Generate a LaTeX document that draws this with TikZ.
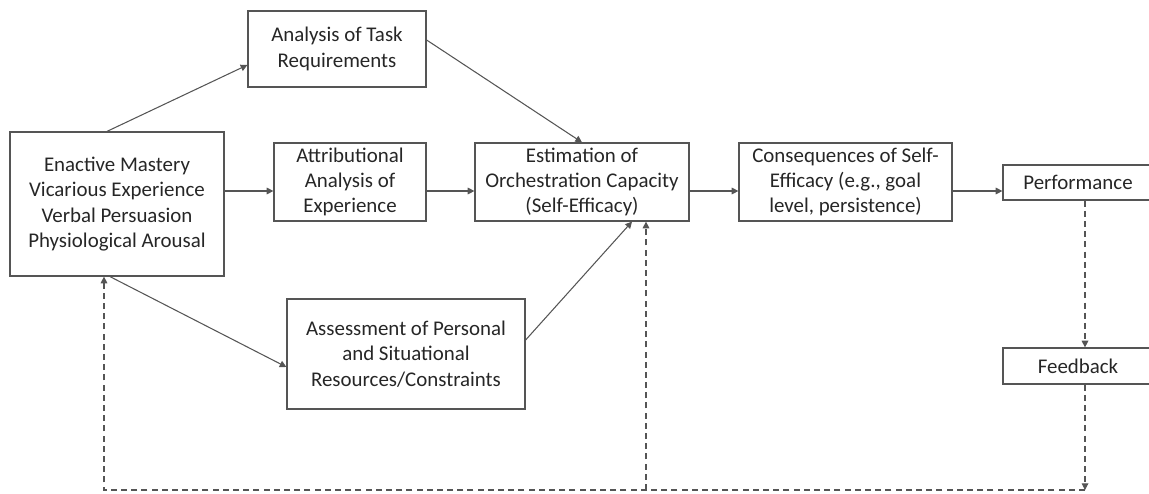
\documentclass[tikz,border=0pt]{standalone}
\usepackage{fontspec}
\setmainfont{Carlito}
\usepackage{tikz}
\usetikzlibrary{positioning,arrows.meta,calc}
\usepackage{xcolor}
\definecolor{boxline}{HTML}{555555}
\definecolor{inktext}{HTML}{262626}

\begin{document}
\begin{tikzpicture}[
    font=\fontsize{11.9}{14.4}\selectfont,
    box/.style={draw=boxline, line width=0.7pt, align=center, text=inktext, inner sep=2pt},
    arr/.style={draw=boxline, line width=0.6pt, -{Triangle[length=3.8pt,width=3.8pt]}},
    fbarr/.style={arr, dash pattern=on 3.4pt off 2.4pt}
]
    \useasboundingbox (0,0) rectangle (22.98,9.86);

    % 1. Fonti dell'autoefficacia (sinistra)
    \node[box, minimum width=4.28cm, minimum height=2.88cm] (src) at (2.34, 5.78)
        {Enactive Mastery\\Vicarious Experience\\Verbal Persuasion\\Physiological Arousal};

    % 2. Tre analisi intermedie
    \node[box, minimum width=3.56cm, minimum height=1.52cm] (task) at (6.74, 8.88)
        {Analysis of Task\\Requirements};
    \node[box, minimum width=3.04cm, minimum height=1.56cm] (attr) at (7.00, 6.22)
        {Attributional\\Analysis of\\Experience};
    \node[box, minimum width=4.76cm, minimum height=2.20cm] (assess) at (8.12, 2.78)
        {Assessment of Personal\\and Situational\\Resources/Constraints};

    % 3. Stima e conseguenze
    \node[box, minimum width=4.28cm, minimum height=1.56cm] (est) at (11.64, 6.22)
        {Estimation of\\Orchestration Capacity\\(Self-Efficacy)};
    \node[box, minimum width=4.26cm, minimum height=1.56cm] (cons) at (16.91, 6.22)
        {Consequences of Self-\\Efficacy (e.g., goal\\level, persistence)};

    % 4. Prestazione e feedback (tagliati a destra)
    \node[box, minimum width=3.2cm, minimum height=0.70cm] (perf) at (21.66, 6.21) {Performance\hspace{0.2cm}};
    \node[box, minimum width=3.2cm, minimum height=0.72cm] (fb) at (21.66, 2.54) {Feedback\hspace{0.2cm}};

    % =========================================================================
    % CONNESSIONI
    % =========================================================================
    \coordinate (row) at (0, 6.04);
    \coordinate (loop) at (21.70, 0.06);
    \coordinate (srcfoot) at ([xshift=-0.26cm]src.south);
    \coordinate (estfoot) at ([xshift=1.28cm]est.south);

    % --- flusso principale ---
    \draw[arr] ([xshift=-0.2cm]src.north) -- ([yshift=-0.32cm]task.west);
    \draw[arr] (src.east |- row) -- (attr.west |- row);
    \draw[arr] ([xshift=-0.14cm]src.south) -- ([yshift=-0.26cm]assess.west);
    \draw[arr] ([yshift=0.18cm]task.east) -- (est.north);
    \draw[arr] (attr.east |- row) -- (est.west |- row);
    \draw[arr] ([yshift=0.28cm]assess.east) -- ([xshift=1.0cm]est.south);
    \draw[arr] (est.east |- row) -- (cons.west |- row);
    \draw[arr] (cons.east |- row) -- (perf.west |- row);

    % --- ciclo di feedback tratteggiato ---
    \draw[fbarr] (loop |- perf.south) -- (loop |- fb.north);
    \draw[fbarr] (loop |- fb.south) -- (loop);
    \draw[fbarr] (loop) -- (srcfoot |- loop) -- (srcfoot);
    \draw[fbarr] (estfoot |- loop) -- (estfoot);

\end{tikzpicture}
\end{document}
